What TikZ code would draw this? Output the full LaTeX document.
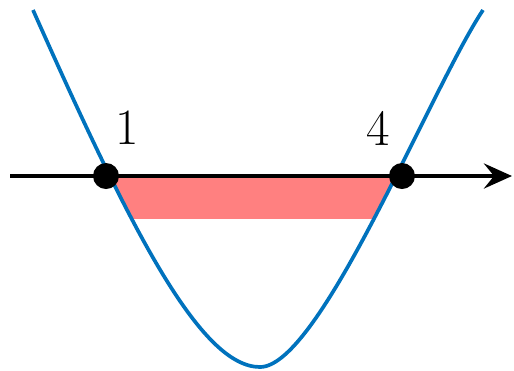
\documentclass[tikz,border=0pt]{standalone}
\usepackage{tikz}
\usetikzlibrary{arrows.meta,positioning}
\definecolor{curveblue}{RGB}{0,114,189}
\definecolor{bandred}{RGB}{255,128,128}

\begin{document}
\begin{tikzpicture}[x=0.02cm,y=-0.02cm]

    \tikzset{root/.style={circle, fill=black, minimum size=0.52cm, inner sep=0pt}}
    \tikzset{rootlabel/.style={font=\fontsize{29}{30}\selectfont, inner sep=0pt}}
    \def\curvepath{(33,10) .. controls (130,228) and (200,367) .. (260,367) .. controls (320,367) and (430,90) .. (483,10)}

    \useasboundingbox (0,0) rectangle (514,370);

    % SHADED BAND
    \begin{scope}
    \clip \curvepath -- cycle;
    \fill[bandred] (0,177) rectangle (514,219);
    \end{scope}

    % CURVE
    \draw[curveblue, line width=2.1pt] \curvepath;

    % AXIS
    \coordinate (ax0) at (10,176);
    \coordinate (ax1) at (512,176);
    \draw[line width=2.7pt, -{Stealth[length=0.56cm, width=0.5cm, inset=0.2cm]}] (ax0) -- (ax1);

    % ROOTS
    \node(r1) at (106,176) [root] {};
    \node(r4) at (402,176) [root] {};
    \node(l1) at (127,128) [rootlabel] {1};
    \node(l4) at (378,128) [rootlabel] {4};

\end{tikzpicture}
\end{document}
